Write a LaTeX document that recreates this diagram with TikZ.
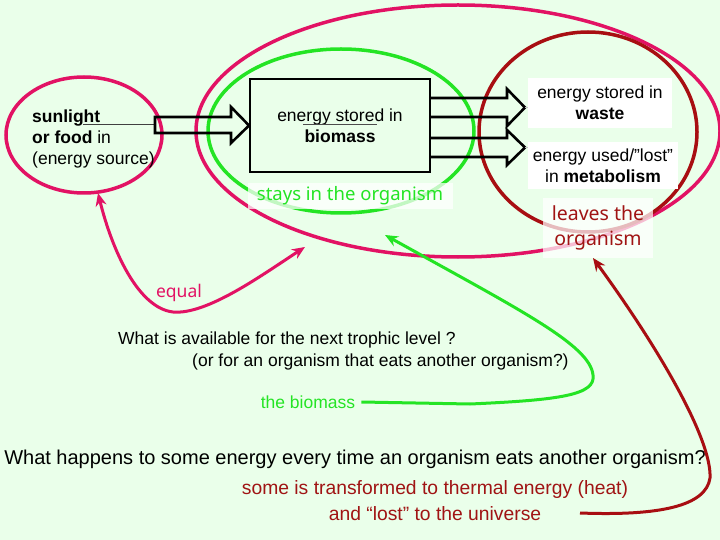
\documentclass[tikz,border=0pt]{standalone}
\usepackage{fontspec}
\setmainfont{Liberation Sans}
\newfontfamily\comicfont{Noto Sans}
\usetikzlibrary{arrows.meta,shapes.geometric}
\definecolor{bgc}{RGB}{234,255,234}
\definecolor{pinkc}{RGB}{226,18,100}
\definecolor{redc}{RGB}{168,14,18}
\definecolor{greenc}{RGB}{36,228,36}
\definecolor{txtred}{RGB}{160,20,20}
\begin{document}
\begin{tikzpicture}[x=1pt,y=-1pt,
  txt/.style={font=\fontsize{17.5}{21}\selectfont, inner sep=0pt, align=center},
  bigtxt/.style={font=\fontsize{20}{24}\selectfont, inner sep=0pt, align=center},
  comic/.style={font=\comicfont\fontsize{18.5}{25}\selectfont, inner sep=0pt, align=center},
  ring/.style={ellipse, draw, line width=3.5pt, inner sep=0pt},
  blockarrow/.style={draw=black, line width=2.6pt, line join=miter},
  faint/.style={fill=white, fill opacity=0.72, text opacity=1},
  tip/.style={-{Stealth[length=13pt,width=11pt]}},
  curve/.style={line width=3pt}
]
\useasboundingbox (0,0) rectangle (720,540);
\fill[bgc] (0,0) rectangle (720,540);

% ellipses
\node[ring, draw=pinkc, minimum width=524pt, minimum height=252pt] (org) at (458,131) {};
\node[ring, draw=pinkc, minimum width=156pt, minimum height=116pt] (src) at (84,135) {};
\node[ring, draw=greenc, minimum width=266pt, minimum height=164pt] (stay) at (341,131) {};
\node[ring, draw=redc, minimum width=218pt, minimum height=200pt] (leave) at (588,132) {};

% source text
\node[txt, align=left, anchor=west] (srctext) at (32,139)
  {\textbf{sunlight}\\ \textbf{or food} in\\ (energy source)};
\draw[black!75, line width=0.8pt] (83,124) -- (155,124);

% biomass box
\node[txt, draw, line width=2pt, minimum width=180pt, minimum height=93pt] (box) at (340,125.5)
  {energy stored in\\ \textbf{biomass}};
\draw[black!70, line width=0.8pt] (303,124) -- (377,124);

% left block arrow
\draw[blockarrow] (155,117) -- (231,117) -- (231,107) -- (box.west) -- (231,143) -- (231,133) -- (155,133) -- cycle;

% right block arrows
\coordinate (t1) at (525,107.5);
\coordinate (t2) at (525,147.5);
\draw[blockarrow] (box.east |- 0,98) -- (507,98) -- (507,89) -- (t1) -- (507,126) -- (507,117) -- (box.east |- 0,117);
\draw[blockarrow] (box.east |- 0,138) -- (507,138) -- (507,130) -- (t2) -- (507,165) -- (507,157) -- (box.east |- 0,157);
\draw[black!25, line width=1.2pt] (t1) -- (597,107.5);
\draw[black!25, line width=1.2pt] (t2) -- (597,147.5);

% right labels
\node[txt, fill=white, minimum width=144pt, minimum height=50pt] (waste) at (600,103)
  {energy stored in\\ \textbf{waste}};
\node[txt, fill=white, minimum width=150pt, minimum height=47pt] (metab) at (603,166)
  {energy used/”lost”\\ in \textbf{metabolism}};

\node[comic, text=greenc, faint, minimum width=205pt, minimum height=26pt] (staylbl) at (350,196)
  {stays in the organism};
\node[comic, text=txtred, faint, minimum width=110pt, minimum height=60pt, font=\comicfont\fontsize{19.5}{25}\selectfont] (leavelbl) at (598,228)
  {leaves the\\ organism};

% equal arrow
\node[comic, text=pinkc, font=\comicfont\fontsize{17.5}{24}\selectfont] (equal) at (179,293) {equal};
\coordinate (eqA) at (98,193);
\coordinate (eqB) at (305,247);
\coordinate (eqM) at (173,312);
\draw[pinkc, curve, tip] (eqM) .. controls (207,315) and (262,275) .. (eqB);
\draw[pinkc, curve, tip] (eqM) .. controls (138,308) and (112,250) .. (eqA);

% middle question
\node[txt, anchor=west] (q1) at (118,340) {What is available for the next trophic level ?};
\node[txt, anchor=west] (q2) at (192,362) {(or for an organism that eats another organism?)};
\node[txt, text=greenc] (bio) at (308,402) {the biomass};
\coordinate (gA) at (385,235);
\draw[greenc, curve, tip] ([xshift=6pt]bio.east) -- (470,404) .. controls (560,400) and (596,395) .. (593,375) .. controls (590,345) and (520,310) .. (gA);

% bottom question
\node[bigtxt] (q3) at (355,459) {What happens to some energy every time an organism eats another organism?};
\node[txt, text=txtred, font=\fontsize{19.3}{24}\selectfont] (heat) at (435,490) {some is transformed to thermal energy (heat)};
\node[txt, text=txtred, font=\fontsize{19.3}{24}\selectfont] (lost) at (435,514) {and “lost” to the universe};
\coordinate (rS) at (580,513);
\coordinate (rA) at (593,258);
\draw[redc, curve, tip] (rS) .. controls (660,516) and (706,506) .. (710,478) .. controls (712,440) and (660,350) .. (rA);
\end{tikzpicture}
\end{document}
